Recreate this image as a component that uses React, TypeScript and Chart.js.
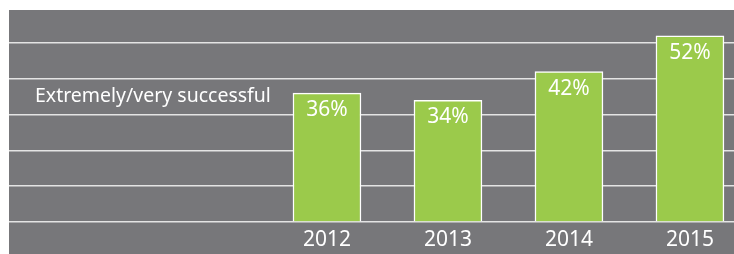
import React, { useEffect, useRef } from "react";
import { Chart, registerables } from "chart.js";

Chart.register(...registerables);

const years = ["2012", "2013", "2014", "2015"];
const successValues = [36, 34, 42, 52];
const seriesLabel = "Extremely/very successful";
const gridValues = [0, 10, 20, 30, 40, 50];

const FONT = "'Noto Sans', sans-serif";

const bgPlugin = {
  id: "grayBg",
  beforeDraw(chart: any) {
    const { ctx, chartArea, width, height } = chart;
    ctx.save();
    ctx.fillStyle = "#77777a";
    ctx.fillRect(chartArea.left, chartArea.top, width - chartArea.left, height - chartArea.top);
    ctx.restore();
  },
};

const labelPlugin = {
  id: "valueLabels",
  afterDatasetsDraw(chart: any) {
    const { ctx, chartArea } = chart;
    const meta = chart.getDatasetMeta(0);
    ctx.save();
    ctx.fillStyle = "#ffffff";
    ctx.textAlign = "center";
    ctx.textBaseline = "middle";
    ctx.font = `21px ${FONT}`;
    meta.data.forEach((bar: any, i: number) => {
      ctx.fillText(`${successValues[i]}%`, bar.x, bar.y + 17);
    });
    ctx.textAlign = "left";
    ctx.font = `19.5px ${FONT}`;
    ctx.fillText(seriesLabel, chartArea.left + 26, chart.scales.y.getPixelForValue(35));
    ctx.restore();
  },
};

export default function App() {
  const ref = useRef<HTMLCanvasElement>(null);
  useEffect(() => {
    if (!ref.current) return;
    const chart = new Chart(ref.current, {
      type: "bar",
      data: {
        datasets: [
          {
            label: seriesLabel,
            data: successValues.map((v, i) => ({ x: i, y: v })),
            backgroundColor: "#9bca4b",
            borderColor: "#ffffff",
            borderWidth: 1.5,
            borderSkipped: "bottom",
            barThickness: 68,
          },
        ],
      },
      options: {
        animation: false,
        responsive: false,
        maintainAspectRatio: false,
        layout: { padding: { left: 9, top: 10, right: 0, bottom: 0 } },
        plugins: { legend: { display: false }, tooltip: { enabled: false }, title: { display: false } },
        scales: {
          x: {
            type: "linear",
            offset: false,
            min: -2.628,
            max: 3.364,
            grid: { display: false, offset: false },
            border: { display: false },
            afterBuildTicks(scale: any) {
              scale.ticks = years.map((_, i) => ({ value: i }));
            },
            afterFit(scale: any) {
              scale.height = 32;
            },
            ticks: {
              autoSkip: false,
              maxRotation: 0,
              padding: -3,
              color: "#ffffff",
              font: { family: FONT, size: 21 },
              callback: (v: any) => years[v as number] ?? "",
            },
          },
          y: {
            min: 0,
            max: 59.2,
            border: { display: false },
            grid: { color: "#e4e4e4", lineWidth: 1.5, drawTicks: false },
            afterBuildTicks(scale: any) {
              scale.ticks = gridValues.map((v) => ({ value: v }));
            },
            afterFit(scale: any) {
              scale.width = 0;
            },
            ticks: { display: false },
          },
        },
      },
      plugins: [bgPlugin, labelPlugin],
    } as any);
    return () => chart.destroy();
  }, []);
  return (
    <div style={{ position: "fixed", left: 0, top: 0, width: 734, height: 254, background: "#fff" }}>
      <canvas ref={ref} width={734} height={254} style={{ width: 734, height: 254, display: "block" }} />
    </div>
  );
}
